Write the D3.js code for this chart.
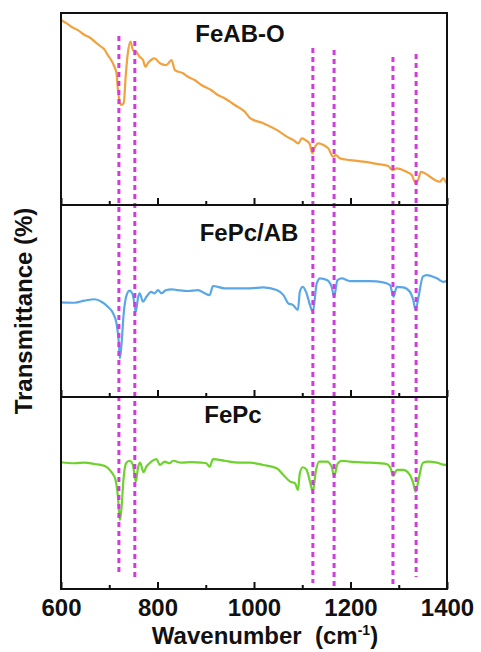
<!DOCTYPE html>
<html>
<head>
<meta charset="utf-8">
<script src="https://cdn.jsdelivr.net/npm/d3@7"></script>
<style>
  body { margin: 0; background: #fff; }
  svg text { font-family: "Liberation Sans", Arial, sans-serif; font-weight: bold; fill: #111; }
</style>
</head>
<body>
<div class="chart"></div>
<script>
// wavenumber (cm-1) and transmittance (a.u., 0-100 inside each panel)
var feabWave = [600, 612, 621, 635, 649, 658, 670, 681, 691, 697, 704, 710, 715, 718, 721, 725, 730, 734, 738, 744,
  749, 756, 763, 770, 775, 780, 794, 805, 818, 829, 836, 853, 863, 877, 891, 911, 925, 939, 960, 981,
  992, 1019, 1047, 1068, 1081, 1092, 1099, 1106, 1115, 1121, 1125, 1133, 1144, 1154, 1164, 1170, 1178, 1199, 1227, 1254,
  1278, 1287, 1296, 1316, 1327, 1335, 1340, 1346, 1354, 1365, 1375, 1385, 1392, 1399];
var feabT = [96.4, 94.6, 92.9, 91.1, 88.5, 87.5, 85.1, 82.8, 80.7, 78.1, 75.5, 72.4, 68.6, 59.9, 54.7, 52.1, 53.0, 66.8, 78.1, 85.1,
  80.7, 79.8, 77.2, 75.5, 72.0, 73.8, 76.4, 73.8, 72.9, 75.5, 70.3, 68.6, 66.8, 65.1, 62.5, 59.9, 57.3, 55.6, 52.1, 48.6,
  45.2, 42.6, 39.1, 35.6, 33.9, 32.1, 34.7, 33.9, 32.1, 26.9, 29.5, 32.1, 31.3, 29.5, 25.2, 26.0, 24.3, 23.4, 22.6, 21.4,
  20.3, 18.2, 19.1, 17.3, 15.6, 11.3, 13.0, 17.3, 16.5, 14.7, 13.0, 12.1, 13.9, 11.3];

var pcabWave = [600, 628, 649, 670, 684, 697, 708, 715, 720, 722, 725, 730, 735, 742, 749, 755, 760, 763, 770, 777,
  787, 794, 801, 808, 818, 829, 842, 863, 884, 898, 908, 915, 939, 967, 992, 1019, 1047, 1061, 1071, 1081,
  1091, 1095, 1101, 1109, 1116, 1122, 1130, 1137, 1151, 1161, 1166, 1173, 1182, 1199, 1240, 1268, 1282, 1289, 1296, 1309,
  1323, 1330, 1335, 1341, 1350, 1358, 1379, 1392, 1400];
var pcabT = [49.3, 49.1, 50.2, 50.9, 49.6, 47.0, 43.6, 38.4, 28.0, 20.2, 26.2, 43.6, 52.2, 55.4, 53.1, 44.4, 52.2, 54.0, 49.6, 52.2,
  54.8, 54.0, 55.7, 54.0, 55.7, 56.1, 55.7, 55.2, 55.7, 54.0, 53.1, 57.8, 56.6, 56.6, 56.6, 57.1, 55.7, 53.1, 48.8, 47.9,
  45.3, 54.8, 57.4, 54.0, 47.9, 44.4, 59.2, 61.8, 60.9, 57.4, 52.2, 60.9, 61.8, 60.4, 60.4, 59.7, 58.3, 52.2, 57.4, 57.1,
  54.8, 50.5, 45.3, 52.2, 62.7, 63.5, 61.8, 60.0, 60.6];

var pcWave = [600, 628, 649, 670, 691, 704, 713, 718, 722, 725, 730, 735, 742, 749, 755, 760, 764, 771, 777, 787,
  798, 805, 815, 825, 832, 849, 870, 891, 901, 908, 915, 939, 967, 992, 1019, 1047, 1061, 1075, 1085, 1091,
  1095, 1101, 1109, 1116, 1122, 1128, 1135, 1151, 1161, 1166, 1173, 1182, 1199, 1240, 1275, 1283, 1289, 1296, 1309, 1323,
  1330, 1335, 1341, 1350, 1361, 1379, 1396, 1400];
var pcT = [66.0, 65.5, 65.8, 65.1, 64.1, 61.1, 56.8, 48.1, 35.9, 41.1, 58.5, 65.5, 66.8, 64.6, 55.9, 63.7, 65.8, 60.8, 63.7, 66.3,
  67.6, 64.6, 66.3, 65.5, 66.8, 65.8, 66.1, 65.8, 65.5, 63.7, 67.6, 66.8, 65.8, 65.8, 64.6, 62.9, 59.4, 55.9, 55.1, 51.6,
  60.3, 63.4, 62.0, 55.9, 50.7, 61.1, 66.3, 66.3, 63.7, 58.5, 65.1, 66.8, 66.3, 65.8, 65.1, 62.9, 58.9, 62.0, 62.0, 59.4,
  55.1, 50.7, 56.8, 65.8, 66.3, 65.8, 64.6, 65.1];

var panelNames = ["FeAB-O", "FePc/AB", "FePc"];
var peakLines = [720, 753, 1122, 1166, 1288, 1336];
var xTicks = [600, 800, 1000, 1200, 1400];
var xMinor = [700, 900, 1100, 1300];

var W = 481, H = 652;
var left = 61, right = 447, top0 = 13, panelH = 192;

var svg = d3.select(".chart").append("svg")
  .attr("width", W)
  .attr("height", H);

var x = d3.scaleLinear().domain([600, 1400]).range([left, right]);

var panels = [
  { name: panelNames[0], wave: feabWave, t: feabT, color: "#f2a13f", tx: 240, ty: 42 },
  { name: panelNames[1], wave: pcabWave, t: pcabT, color: "#5aa7e8", tx: 249, ty: 241 },
  { name: panelNames[2], wave: pcWave, t: pcT, color: "#6dd22c", tx: 233, ty: 423 }
];

panels.forEach(function(p, i) {
  var pTop = top0 + i * panelH, pBot = pTop + panelH;
  var y = d3.scaleLinear().domain([0, 100]).range([pBot, pTop]);

  var pts = p.wave.map(function(w, k) { return { w: w, t: p.t[k] }; });
  var line = d3.line()
    .curve(d3.curveMonotoneX)
    .x(function(d) { return x(d.w); })
    .y(function(d) { return y(d.t); });

  svg.append("path")
    .attr("d", line(pts))
    .attr("fill", "none")
    .attr("stroke", p.color)
    .attr("stroke-width", 2.2)
    .attr("stroke-linejoin", "round");

  // inward ticks on the bottom edge of each panel
  var axis = d3.axisBottom(x).tickValues(xTicks).tickSizeInner(-7).tickSizeOuter(0).tickPadding(10)
    .tickFormat(i === 2 ? d3.format("d") : "");
  var g = svg.append("g").attr("transform", "translate(0," + pBot + ")").call(axis);
  g.select(".domain").remove();
  g.selectAll(".tick line").attr("stroke", "#111").attr("stroke-width", 2);
  g.selectAll("text").style("font-size", "24px").attr("fill", "#111");

  var minor = d3.axisBottom(x).tickValues(xMinor).tickSizeInner(-4).tickSizeOuter(0).tickFormat("");
  var gm = svg.append("g").attr("transform", "translate(0," + pBot + ")").call(minor);
  gm.select(".domain").remove();
  gm.selectAll(".tick line").attr("stroke", "#111").attr("stroke-width", 2);

  svg.append("text")
    .attr("x", p.tx)
    .attr("y", p.ty)
    .attr("text-anchor", "middle")
    .style("font-size", "24px")
    .text(p.name);
});

// dashed peak markers
var dashTop = [36, 41, 48, 50, 57, 54];
var dashBot = [572, 577, 583, 586, 590, 577];
svg.selectAll(".peak")
  .data(peakLines)
  .enter().append("line")
  .attr("class", "peak")
  .attr("x1", function(d) { return x(d); })
  .attr("x2", function(d) { return x(d); })
  .attr("y1", function(d, i) { return dashTop[i]; })
  .attr("y2", function(d, i) { return dashBot[i]; })
  .attr("stroke", "#d03adf")
  .attr("stroke-width", 3)
  .attr("stroke-dasharray", "5,4");

// panel frames
panels.forEach(function(p, i) {
  svg.append("rect")
    .attr("x", left)
    .attr("y", top0 + i * panelH)
    .attr("width", right - left)
    .attr("height", panelH)
    .attr("fill", "none")
    .attr("stroke", "#111")
    .attr("stroke-width", 2);
});

svg.append("text")
  .attr("transform", "translate(32,311) rotate(-90)")
  .attr("text-anchor", "middle")
  .style("font-size", "24px")
  .text("Transmittance (%)");

var xt = svg.append("text")
  .attr("x", 265)
  .attr("y", 644)
  .attr("text-anchor", "middle")
  .style("font-size", "24px")
  .attr("xml:space", "preserve");
xt.append("tspan").text("Wavenumber  (cm");
xt.append("tspan").attr("dy", -9).style("font-size", "14px").text("-1");
xt.append("tspan").attr("dy", 9).text(")");
</script>
</body>
</html>
